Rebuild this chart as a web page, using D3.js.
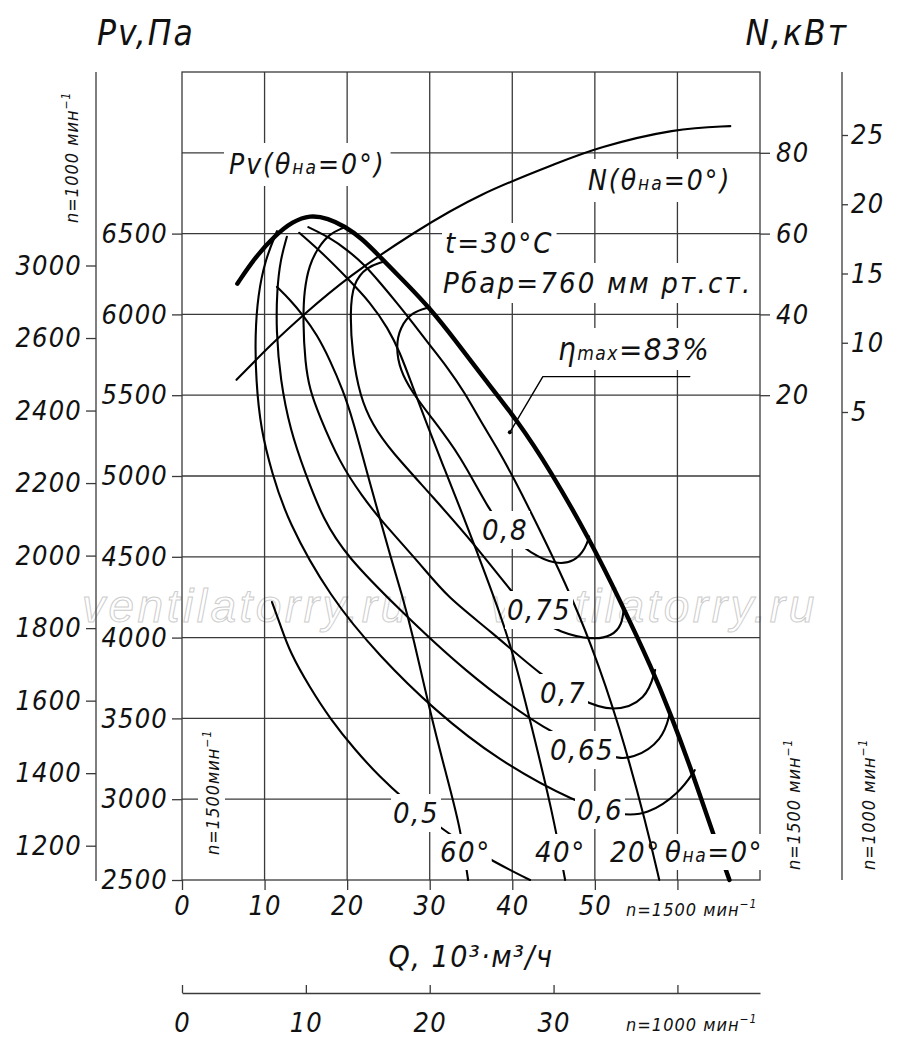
<!DOCTYPE html>
<html>
<head>
<meta charset="utf-8">
<script src="https://cdn.jsdelivr.net/npm/d3@7"></script>
<style>
  body { margin: 0; background: #fff; }
  svg { display: block; background: #fff; }
  text { font-family: "Liberation Sans Narrow", "DejaVu Sans Condensed", "Liberation Sans", sans-serif; font-style: italic; fill: #111; }
</style>
</head>
<body>
<svg id="chart" width="900" height="1049"></svg>
<script>
// ---- tick values / labels ----
const qTicks1500 = [0, 10, 20, 30, 40, 50, 60];
const qLabels1500 = ["0", "10", "20", "30", "40", "50", ""];
const qTicks1000 = [0, 10, 20, 30, 40];
const qLabels1000 = ["0", "10", "20", "30", ""];
const pvTicks = [2500, 3000, 3500, 4000, 4500, 5000, 5500, 6000, 6500];
const nTicks1500 = [20, 40, 60, 80];
const nTicks1000 = [5, 10, 15, 20, 25];
const pvTicks1000 = [1200, 1400, 1600, 1800, 2000, 2200, 2400, 2600, 2800];
const pvLabels1000 = ["1200", "1400", "1600", "1800", "2000", "2200", "2400", "2600", "3000"];
const gridQ = [10, 20, 30, 40, 50, 60];
const gridPv = [3000, 3500, 4000, 4500, 5000, 5500, 6000, 6500, 7000];

// ---- curves, [Q 10^3 m3/h, Pv Pa] at n=1500 ----
const pv0 = [[6.7,6190],[8.8,6350],[11.3,6490],[13.4,6575],[15.5,6615],[17.7,6595],[19.7,6545],[21.8,6470],[24.0,6355],[27.0,6200],[30.0,6040],[33.1,5840],[36.1,5635],[40.6,5345],[44.6,5035],[49.4,4605],[53.0,4235],[57.0,3800],[59.1,3535],[61.5,3210],[64.3,2790],[66.3,2500]];
const theta20 = [[15.3,6540],[17.9,6475],[20.0,6400],[22.15,6305],[24.0,6195],[26.05,6070],[28.0,5945],[30.0,5810],[32.1,5675],[34.25,5515],[36.1,5345],[38.15,5175],[40.1,4995],[43.35,4665],[46.4,4340],[49.4,3985],[53.05,3445],[56.3,2830],[57.8,2500]];
const theta40 = [[14.2,6505],[17.1,6375],[20.0,6225],[22.8,6075],[24.95,5915],[26.4,5765],[27.85,5565],[29.7,5315],[31.85,5035],[34.0,4760],[36.1,4480],[38.15,4200],[40.1,3905],[42.15,3490],[44.9,2915],[46.4,2500]];
const theta60 = [[11.5,6170],[13.1,6090],[14.65,5995],[16.35,5875],[17.9,5720],[19.5,5530],[20.7,5345],[22.15,5070],[24.0,4730],[25.2,4510],[26.65,4265],[28.0,4005],[30.0,3550],[31.85,3180],[33.7,2830],[34.65,2500]];
const eta08 = [[30.0,6045],[27.85,6015],[26.4,5920],[25.9,5800],[26.4,5655],[27.85,5520],[30.0,5375],[33.7,5130],[37.3,4775],[39.7,4625],[42.15,4525],[45.2,4450],[47.6,4470],[48.9,4555],[49.3,4625]];
const eta075 = [[24.3,6325],[22.4,6295],[20.7,6195],[20.35,6010],[20.6,5760],[21.55,5490],[23.1,5315],[25.2,5160],[30.4,4870],[35.7,4560],[39.7,4295],[42.75,4125],[45.8,4030],[49.8,3985],[52.1,4010],[53.3,4080],[53.5,4185]];
const eta07 = [[19.5,6535],[17.9,6500],[16.5,6415],[15.4,6305],[14.8,6150],[14.65,5965],[14.9,5700],[15.5,5530],[16.5,5390],[19.1,5080],[21.9,4870],[24.0,4730],[28.8,4460],[32.1,4250],[37.3,4045],[43.7,3755],[48.2,3615],[52.2,3535],[56.3,3615],[57.3,3800]];
const eta065 = [[12.7,6480],[11.9,6335],[11.5,6150],[11.4,5905],[11.9,5595],[13.1,5285],[14.9,5020],[17.1,4730],[20.0,4500],[26.0,4190],[34.0,3800],[44.2,3410],[51.8,3255],[54.6,3245],[58.25,3365],[59.1,3535]];
const eta06 = [[11.5,6515],[10.05,6335],[9.2,6120],[8.85,5875],[8.95,5595],[9.55,5285],[10.9,5020],[12.7,4730],[17.9,4250],[24.0,3880],[30.6,3550],[38.1,3245],[47.8,2975],[53.0,2900],[56.3,2900],[60.3,3040],[62.1,3180]];
const eta05 = [[10.9,4220],[11.9,4080],[13.1,3905],[15.5,3690],[17.9,3500],[20.95,3305],[24.0,3135],[27.0,2995],[30.4,2855],[36.1,2655],[42.15,2500]];
// power, [Q, N kW] at n=1500
const power0 = [[6.6,23.8],[10.7,32.4],[14.7,39.9],[20.1,49.3],[28.1,60.4],[36.1,70.0],[45.8,77.7],[50.1,81.2],[59.8,86.1],[66.4,86.6]];
// best efficiency point and its leader
const etaMaxLeader = [[39.7,5270],[43.7,5615],[61.5,5615]];

// ---- scales ----
const x = d3.scaleLinear().domain([0, 70]).range([182, 760]);
const x1000 = d3.scaleLinear().domain([0, 70 * 2 / 3]).range([182, 760]);
const y = d3.scaleLinear().domain([2500, 7500]).range([880, 72]);
const yN = d3.scaleLinear().domain([-100, 100]).range([880, 72]);
const yN1000 = d3.scaleLinear().domain([5, 25]).range([412, 135]);
const yP1000 = d3.scaleLinear().domain([1200, 2800]).range([845.7, 265.5]);

const svg = d3.select("#chart");
const gridColor = "#3a3a3a";

// watermark
const wm = svg.append("g");
[82, 490].forEach(wx => {
  wm.append("text").attr("x", wx).attr("y", 622)
    .attr("font-size", 46).attr("letter-spacing", 3.5)
    .style("font-family", "'Liberation Sans', sans-serif")
    .style("fill", "none").attr("stroke", "#cdcdcd").attr("stroke-width", 1)
    .text("ventilatorry.ru");
});

// grid
const grid = svg.append("g").attr("stroke", gridColor).attr("stroke-width", 1.3);
grid.selectAll(".vg").data(gridQ).join("line")
  .attr("x1", d => x(d)).attr("x2", d => x(d))
  .attr("y1", y(7500)).attr("y2", y(2500));
grid.selectAll(".hg").data(gridPv).join("line")
  .attr("x1", x(0)).attr("x2", x(70))
  .attr("y1", d => y(d)).attr("y2", d => y(d));
grid.append("rect")
  .attr("x", x(0)).attr("y", y(7500))
  .attr("width", x(70) - x(0)).attr("height", y(2500) - y(7500))
  .attr("fill", "none");

// axes
function styleAxis(g, size) {
  g.attr("font-size", size).attr("color", gridColor);
  g.selectAll(".tick line").attr("stroke-width", 1.3);
  g.selectAll(".domain").attr("stroke-width", 1.3);
  g.selectAll("text").style("fill", "#111").attr("letter-spacing", 1.2);
}

svg.append("g").attr("transform", `translate(${x(0)},0)`)
  .call(d3.axisLeft(y).tickValues(pvTicks).tickFormat(d3.format("d"))
    .tickSize(10).tickPadding(4).tickSizeOuter(0))
  .call(g => g.select(".domain").remove())
  .call(g => styleAxis(g, 27));

svg.append("g").attr("transform", `translate(${x(70)},0)`)
  .call(d3.axisRight(yN).tickValues(nTicks1500).tickSize(10).tickPadding(6).tickSizeOuter(0))
  .call(g => g.select(".domain").remove())
  .call(g => styleAxis(g, 27));

svg.append("g").attr("transform", "translate(842,0)")
  .call(d3.axisRight(yN1000).tickValues(nTicks1000).tickSize(6).tickPadding(3).tickSizeOuter(0))
  .call(g => g.select(".domain").remove())
  .call(g => styleAxis(g, 27))
  .call(g => g.append("line").attr("x1", 0).attr("x2", 0).attr("y1", 72).attr("y2", 880)
    .attr("stroke", gridColor).attr("stroke-width", 1.3));

svg.append("g").attr("transform", "translate(96,0)")
  .call(d3.axisLeft(yP1000).tickValues(pvTicks1000).tickFormat((d, i) => pvLabels1000[i])
    .tickSize(10).tickPadding(4).tickSizeOuter(0))
  .call(g => g.select(".domain").remove())
  .call(g => styleAxis(g, 27))
  .call(g => g.append("line").attr("x1", 0).attr("x2", 0).attr("y1", 72).attr("y2", 881)
    .attr("stroke", gridColor).attr("stroke-width", 1.3));

svg.append("g").attr("transform", `translate(0,${y(2500)})`)
  .call(d3.axisBottom(x).tickValues(qTicks1500).tickFormat((d, i) => qLabels1500[i])
    .tickSize(10).tickPadding(6).tickSizeOuter(0))
  .call(g => g.select(".domain").remove())
  .call(g => styleAxis(g, 27));

svg.append("g").attr("transform", "translate(0,993)")
  .call(d3.axisBottom(x1000).tickValues(qTicks1000).tickFormat((d, i) => qLabels1000[i])
    .tickSize(-8).tickPadding(20).tickSizeOuter(0))
  .call(g => styleAxis(g, 27));

// curves
const pvLine = d3.line().x(d => x(d[0])).y(d => y(d[1])).curve(d3.curveBasis);
const nLine = d3.line().x(d => x(d[0])).y(d => yN(d[1])).curve(d3.curveBasis);
const curves = svg.append("g").attr("fill", "none").attr("stroke", "#000")
  .attr("stroke-linecap", "round").attr("stroke-linejoin", "round");

[theta20, theta40, theta60, eta08, eta075, eta07, eta065, eta06, eta05].forEach(c => {
  curves.append("path").attr("d", pvLine(c)).attr("stroke-width", 2.1);
});
curves.append("path").attr("d", nLine(power0)).attr("stroke-width", 2.1);
curves.append("path").attr("d", pvLine(pv0)).attr("stroke-width", 4.4);
curves.append("path").attr("d", d3.line().x(d => x(d[0])).y(d => y(d[1]))(etaMaxLeader))
  .attr("stroke-width", 1.4);
curves.append("circle").attr("cx", x(etaMaxLeader[0][0])).attr("cy", y(etaMaxLeader[0][1]))
  .attr("r", 2).attr("fill", "#000").attr("stroke", "none");

// labels
const gl = svg.append("g");
function note(x0, y0, parts, size, opts = {}) {
  const t = gl.append("text").attr("x", x0).attr("y", y0).attr("font-size", size)
    .attr("letter-spacing", opts.spacing ?? 1.5);
  if (opts.anchor) t.attr("text-anchor", opts.anchor);
  if (opts.rotate) t.attr("transform", `rotate(-90,${x0},${y0})`);
  parts.forEach(p => {
    const s = t.append("tspan").text(p[0]);
    if (p[1]) s.attr("font-size", p[1]);
    if (p[2]) s.attr("dy", p[2]);
  });
  if (opts.bg) {
    const b = t.node().getBBox();
    const pad = opts.pad ?? 2;
    gl.insert("rect", () => t.node())
      .attr("x", b.x - pad).attr("y", b.y - pad)
      .attr("width", b.width + 2 * pad).attr("height", b.height + 2 * pad)
      .attr("fill", "#fff")
      .attr("transform", opts.rotate ? `rotate(-90,${x0},${y0})` : null);
  }
  return t;
}

note(97, 45, [["Pv,Па"]], 35, { spacing: 2 });
note(848, 45, [["N,кВт"]], 35, { spacing: 2, anchor: "end" });

note(229, 174, [["Pv(θ"], ["на", 19], ["=0°)"]], 28, { bg: true, pad: 5, spacing: 2 });
note(588, 190, [["N(θ"], ["на", 19], ["=0°)"]], 28, { bg: true, pad: 5, spacing: 2 });
note(445, 253, [["t=30°C"]], 29, { bg: true, pad: 3, spacing: 2 });
note(443, 293, [["Рбар=760 мм рт.ст."]], 29, { bg: true, pad: 3, spacing: 2.2 });
note(558, 360, [["η"], ["max", 19], ["=83%"]], 31, { bg: true, pad: 3, spacing: 1.5 });

note(482, 540, [["0,8"]], 29, { bg: true });
note(507, 620, [["0,75"]], 29, { bg: true });
note(540, 703, [["0,7"]], 29, { bg: true });
note(550, 760, [["0,65"]], 29, { bg: true });
note(577, 820, [["0,6"]], 29, { bg: true });
note(393, 823, [["0,5"]], 29, { bg: true });
note(440, 862, [["60°"]], 29, { bg: true, pad: 1 });
note(535, 862, [["40°"]], 29, { bg: true, pad: 1 });
note(610, 862, [["20°"]], 29);
note(665, 862, [["θ"], ["на", 19], ["=0°"]], 29, { bg: true, pad: 1 });

note(471, 967, [["Q, 10³·м³/ч"]], 30, { anchor: "middle", spacing: 1.5 });
note(626, 916, [["n=1500 мин"], ["−1", 12, -8]], 18, { spacing: 1 });
note(626, 1031, [["n=1000 мин"], ["−1", 12, -8]], 18, { spacing: 1 });

note(78, 223, [["n=1000 мин"], ["−1", 12, -8]], 18, { rotate: true, spacing: 1 });
note(219, 855, [["n=1500мин"], ["−1", 12, -8]], 18, { rotate: true, spacing: 1, bg: true });
note(800, 870, [["n=1500 мин"], ["−1", 12, -8]], 18, { rotate: true, spacing: 1 });
note(875, 870, [["n=1000 мин"], ["−1", 12, -8]], 18, { rotate: true, spacing: 1 });
</script>
</body>
</html>
